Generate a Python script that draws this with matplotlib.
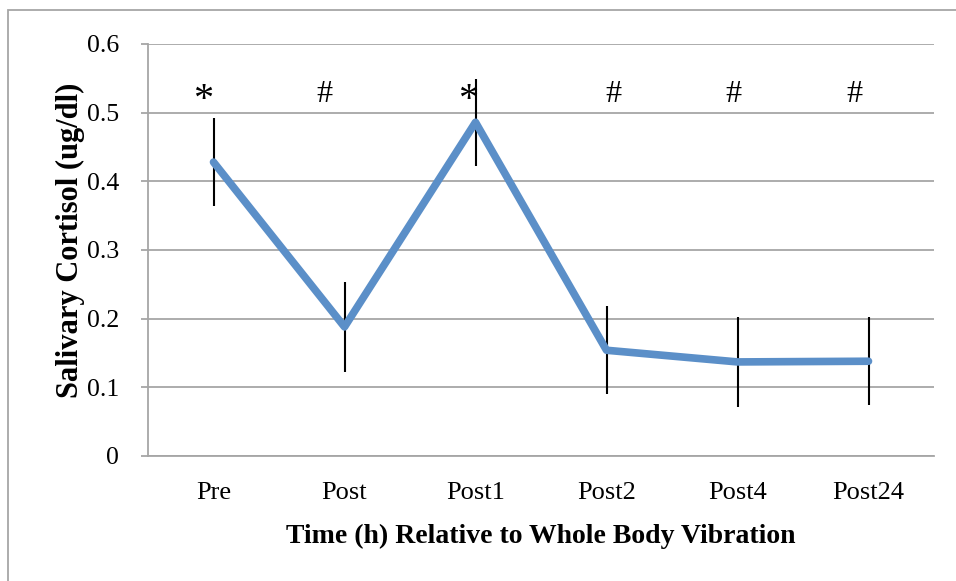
import matplotlib
matplotlib.use("Agg")
import matplotlib.pyplot as plt
from matplotlib.patches import Rectangle

categories = ["Pre", "Post", "Post1", "Post2", "Post4", "Post24"]
cortisol = [0.428, 0.188, 0.486, 0.154, 0.137, 0.138]
errors = [0.064, 0.065, 0.063, 0.064, 0.065, 0.064]
sig_marks = ["*", "#", "*", "#", "#", "#"]
sig_offsets = [-0.08, -0.15, -0.06, 0.05, -0.03, -0.11]
yticks = [0, 0.1, 0.2, 0.3, 0.4, 0.5, 0.6]

W, H = 956, 581
fig = plt.figure(figsize=(W / 100, H / 100), dpi=100)
ax = fig.add_axes([148 / W, 1 - 456 / H, (934 - 148) / W, (456 - 44) / H])

serif = ["Liberation Serif", "DejaVu Serif"]
grid_c = "#A6A6A6"

x = list(range(len(categories)))
ax.errorbar(x, cortisol, yerr=errors, fmt="none", ecolor="black", elinewidth=1.5, capsize=0, zorder=3)
ax.plot(x, cortisol, color="#5B8FC8", lw=5.5, solid_capstyle="round", solid_joinstyle="round", zorder=4)

for xi, m, off in zip(x, sig_marks, sig_offsets):
    yy = 0.518 if m == "*" else 0.527
    ax.text(xi + off, yy, m, ha="center", va="center", fontsize=29 if m == "*" else 23,
            family=serif, zorder=5)

ax.set_xlim(-0.5, len(categories) - 0.5)
ax.set_ylim(0, 0.6)
ax.set_yticks(yticks)
ax.set_yticklabels(["0" if v == 0 else f"{v:.1f}" for v in yticks], family=serif, fontsize=18.5)
ax.set_xticks(x)
ax.set_xticklabels(categories, family=serif, fontsize=19)
ax.yaxis.grid(True, color=grid_c, lw=1.3)
ax.set_axisbelow(True)
for s in ["top", "right"]:
    ax.spines[s].set_visible(False)
ax.spines["left"].set_color(grid_c)
ax.spines["bottom"].set_color(grid_c)
ax.spines["left"].set_linewidth(1.3)
ax.spines["bottom"].set_linewidth(1.3)
ax.tick_params(axis="y", length=5, color=grid_c, width=1.3, pad=16)
ax.tick_params(axis="x", length=0, pad=19)

ax.set_xlabel("Time (h) Relative to Whole Body Vibration", family=serif, fontsize=20, fontweight="bold", labelpad=14)
ax.set_ylabel("Salivary Cortisol (ug/dl)", family=serif, fontsize=22, fontweight="bold", labelpad=1)
ax.yaxis.label.set_y(0.524)

fig.patches.append(Rectangle((8 / W, -0.1), 1.2, 1 - 10 / H + 0.1, transform=fig.transFigure,
                             fill=False, edgecolor="#A6A6A6", lw=1.3))

fig.savefig("out.png", dpi=100)
